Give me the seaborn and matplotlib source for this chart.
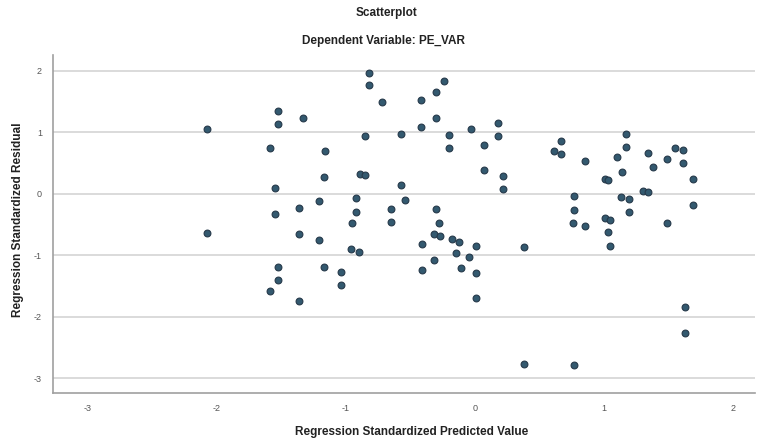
import matplotlib
matplotlib.use("Agg")
import matplotlib.pyplot as plt
import seaborn as sns
import pandas as pd

predicted = [
    -2.08, -2.08, -1.53, -1.53, -1.59, -1.55, -1.55, -1.36, -1.36, -1.53, -1.53, -1.59, -1.36,
    -1.33, -0.82, -0.82, -0.72, -0.42, -0.24, -0.30, -0.30, -0.42, -0.57, -0.85, -0.20, -0.20,
    -0.03, 0.18, 0.18, 0.07, 0.07, 0.22, 0.22, -1.16, -1.17, -0.89, -0.85, -0.57, -0.54, -0.92,
    -0.92, -0.95, -1.21, -0.65, -0.65, -0.30, -0.28,
    -1.21, -1.17, -1.04, -1.04, -0.96, -0.90, -0.32, -0.27, -0.41, -0.32, -0.41, -0.18, -0.12,
    0.01, -0.15, -0.05, -0.11, 0.01, 0.01, 0.38, 0.38,
    0.67, 0.61, 0.67, 0.85, 1.17, 1.17, 1.10, 1.14, 1.01, 1.03, 1.34, 1.38, 1.49, 1.55, 1.61,
    1.61, 1.69, 1.30, 1.34, 1.13, 1.19, 0.77, 0.77, 0.76, 0.85, 1.01, 1.05, 1.19, 1.69, 1.49,
    1.03, 1.05, 1.63, 1.63, 0.77,
]
residual = [
    1.05, -0.64, 1.35, 1.14, 0.75, 0.10, -0.33, -0.23, -0.66, -1.19, -1.40, -1.58, -1.75,
    1.23, 1.97, 1.77, 1.49, 1.52, 1.84, 1.66, 1.24, 1.09, 0.98, 0.94, 0.96, 0.75,
    1.06, 1.15, 0.95, 0.80, 0.39, 0.29, 0.08, 0.70, 0.28, 0.32, 0.31, 0.14, -0.10, -0.07,
    -0.29, -0.48, -0.11, -0.24, -0.46, -0.24, -0.47,
    -0.75, -1.19, -1.27, -1.49, -0.90, -0.94, -0.65, -0.68, -0.81, -1.07, -1.24, -0.74, -0.78,
    -0.85, -0.96, -1.03, -1.20, -1.28, -1.70, -0.87, -2.77,
    0.86, 0.69, 0.65, 0.54, 0.98, 0.76, 0.60, 0.36, 0.24, 0.23, 0.66, 0.43, 0.57, 0.75, 0.72,
    0.50, 0.24, 0.04, 0.03, -0.05, -0.08, -0.04, -0.26, -0.47, -0.52, -0.40, -0.43, -0.30, -0.18, -0.48,
    -0.62, -0.85, -1.84, -2.27, -2.79,
]
x_ticks = [-3, -2, -1, 0, 1, 2]
y_ticks = [-3, -2, -1, 0, 1, 2]

df = pd.DataFrame({"pred": predicted, "resid": residual})

sns.set_theme(style="white")
plt.rcParams['font.family'] = ['Liberation Sans', 'DejaVu Sans']

fig = plt.figure(figsize=(7.61, 4.48), dpi=100)
ax = fig.add_axes([53/761, 1 - 393/448, (755 - 53)/761, (393 - 55)/448])

for yv in y_ticks:
    ax.axhline(yv, color="#d4d4d4", lw=1.2, zorder=0)

sns.scatterplot(data=df, x="pred", y="resid", ax=ax, s=24, color="#33596f",
                edgecolor="#26394a", linewidth=0.8, zorder=3)

ax.set_xlim(-3.27, 2.17)
ax.set_ylim(-3.24, 2.26)
ax.set_xticks(x_ticks)
ax.set_yticks(y_ticks)
ax.set_xticklabels([str(v) for v in x_ticks], fontsize=6.5, color="#555555")
ax.set_yticklabels([str(v) for v in y_ticks], fontsize=6.5, color="#555555")
ax.tick_params(axis="both", length=2, width=0.8, color="#b0b0b0", pad=6)
for s in ["top", "right"]:
    ax.spines[s].set_visible(False)
for s in ["left", "bottom"]:
    ax.spines[s].set_color("#a0a0a0")
    ax.spines[s].set_linewidth(1.2)

ax.set_xlabel("")
ax.set_ylabel("")
fig.text(412/761, 1 - 432/448, "Regression Standardized Predicted Value", ha="center", va="center",
         fontsize=8.5, fontweight="bold", color="#222222")
fig.text(18/761, 1 - 220/448, "Regression Standardized Residual", ha="center", va="center",
         rotation=90, fontsize=8.5, fontweight="bold", color="#222222")
fig.text(386/761, 1 - 13/448, "Scatterplot", ha="center", va="center",
         fontsize=8.5, fontweight="bold", color="#222222")
fig.text(384/761, 1 - 41/448, "Dependent Variable: PE_VAR", ha="center", va="center",
         fontsize=8.5, fontweight="bold", color="#222222")

fig.savefig("out.png", dpi=100, facecolor="white")
